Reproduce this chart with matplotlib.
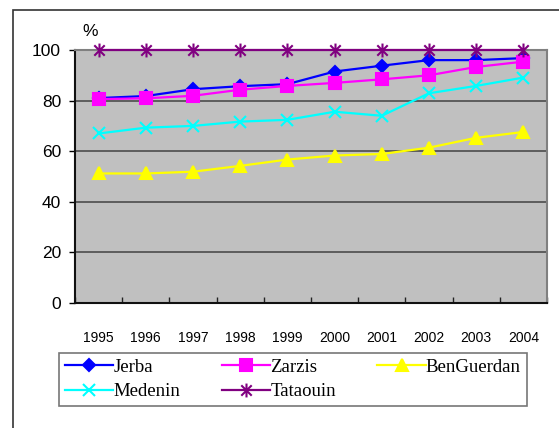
import matplotlib.pyplot as plt
import numpy as np
from matplotlib.path import Path
from matplotlib.patches import Rectangle
from matplotlib.ticker import FixedLocator

years = ["1995", "1996", "1997", "1998", "1999", "2000", "2001", "2002", "2003", "2004"]
jerba = [81, 81.8, 84.5, 85.7, 86.5, 91.5, 93.8, 96, 96, 96.8]
zarzis = [80.6, 80.9, 81.9, 84.3, 85.8, 87, 88.4, 90, 93.3, 95.4]
benguerdan = [51.2, 51.2, 51.9, 54.2, 56.7, 58.3, 58.9, 61.4, 65.3, 67.6]
medenin = [67, 69.3, 70, 71.7, 72.4, 75.6, 74, 82.9, 85.8, 89.1]
tataouin = [100, 100, 100, 100, 100, 100, 100, 100, 100, 100]

star = Path([(0, -1), (0, 1), (-0.75, -0.75), (0.75, 0.75), (-0.75, 0.75), (0.75, -0.75)],
            [Path.MOVETO, Path.LINETO, Path.MOVETO, Path.LINETO, Path.MOVETO, Path.LINETO])

fig = plt.figure(figsize=(5.59, 4.28), dpi=100)
fig.patches.append(Rectangle((13 / 559, -0.1), 1.2, 1 - 10 / 428 + 0.1, transform=fig.transFigure,
                             fill=False, edgecolor="#333333", linewidth=1.2))
ax = fig.add_axes([75 / 559, 1 - 303 / 428, 472 / 559, 253 / 428])
ax.set_facecolor("#C0C0C0")

x = np.arange(len(years))
series = [
    ("Jerba", jerba, "#0000FF", "D", 6.5),
    ("Zarzis", zarzis, "#FF00FF", "s", 8),
    ("BenGuerdan", benguerdan, "#FFFF00", "^", 9),
    ("Medenin", medenin, "#00FFFF", "x", 9),
    ("Tataouin", tataouin, "#800080", star, 10),
]
handles = {}
for name, vals, col, mk, ms in series:
    ln, = ax.plot(x, vals, color=col, marker=mk, markersize=ms, linewidth=1.6,
                  markeredgewidth=1.5, clip_on=False, zorder=3, label=name)
    handles[name] = ln

ax.set_xlim(-0.5, len(years) - 0.5)
ax.set_ylim(0, 100)
ax.set_yticks([0, 20, 40, 60, 80, 100])
ax.yaxis.grid(True, color="#555555", linewidth=1.3)
ax.set_axisbelow(True)
ax.set_xticks(x)
ax.set_xticklabels(years, fontsize=10, family="Liberation Sans")
ax.xaxis.set_minor_locator(FixedLocator(np.arange(-0.5, len(years), 1)))
ax.tick_params(axis="x", which="major", length=0, pad=20)
ax.tick_params(axis="x", which="minor", direction="in", length=4, width=1, color="#222222")
ax.tick_params(axis="y", length=4, width=1, labelsize=12.5, pad=6)
for lbl in ax.get_yticklabels():
    lbl.set_family("Liberation Sans")
for s in ["left", "bottom"]:
    ax.spines[s].set_color("#111111")
    ax.spines[s].set_linewidth(1.5)
for s in ["right", "top"]:
    ax.spines[s].set_color("#808080")
    ax.spines[s].set_linewidth(1.5)

fig.text(90 / 559, 1 - 31 / 428, "%", fontsize=12.5, family="Liberation Sans", ha="center", va="center")

order = ["Jerba", "Medenin", "Zarzis", "Tataouin", "BenGuerdan"]
leg = fig.legend([handles[n] for n in order], order, ncol=3, loc="upper left",
                 bbox_to_anchor=(59 / 559, 1 - 353 / 428), frameon=True, fancybox=False,
                 edgecolor="#555555", prop={"family": "Liberation Serif", "size": 13.5},
                 handlelength=2.6, handletextpad=0.0, columnspacing=2.2, labelspacing=0.4,
                 borderpad=0.3, borderaxespad=0)
leg.get_frame().set_linewidth(1.2)

fig.savefig("out.png", dpi=100)
